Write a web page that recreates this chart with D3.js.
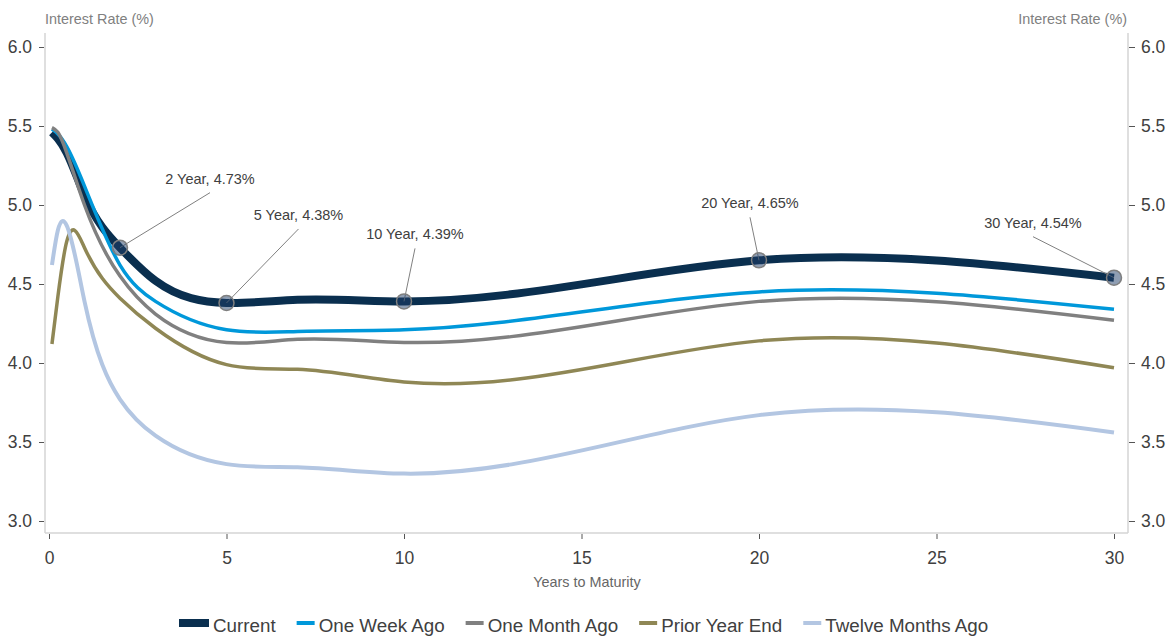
<!DOCTYPE html>
<html>
<head>
<meta charset="utf-8">
<script src="https://cdn.jsdelivr.net/npm/d3@7"></script>
<style>
  body { margin: 0; background: #fff; }
  svg { display: block; font-family: "Liberation Sans", Arial, sans-serif; }
  .axis .domain { display: none; }
  .axis line { stroke: #555; }
  .axis text { fill: #404040; font-size: 17.5px; }
</style>
</head>
<body>
<svg id="chart" width="1167" height="636"></svg>
<script>
// maturities in years (1M, 3M, 6M, 1Y ... 30Y)
const maturities = [1/12, 3/12, 0.5, 1, 2, 3, 5, 7, 10, 20, 30];

const current         = [5.46, 5.42, 5.33, 5.06, 4.73, 4.52, 4.38, 4.40, 4.39, 4.65, 4.54];
const oneWeekAgo      = [5.48, 5.45, 5.37, 5.12, 4.62, 4.39, 4.21, 4.20, 4.21, 4.45, 4.34];
const oneMonthAgo     = [5.49, 5.46, 5.33, 5.00, 4.55, 4.31, 4.13, 4.15, 4.13, 4.39, 4.27];
const priorYearEnd    = [4.12, 4.42, 4.77, 4.73, 4.41, 4.22, 3.99, 3.96, 3.88, 4.14, 3.97];
const twelveMonthsAgo = [4.62, 4.84, 4.87, 4.39, 3.77, 3.54, 3.36, 3.34, 3.30, 3.67, 3.56];

const seriesNames = ["Current", "One Week Ago", "One Month Ago", "Prior Year End", "Twelve Months Ago"];
const seriesValues = [current, oneWeekAgo, oneMonthAgo, priorYearEnd, twelveMonthsAgo];
const seriesColors = ["#0a2f4f", "#0098da", "#808080", "#8f8755", "#b3c6e2"];
const seriesWidths = [8, 3.5, 3.5, 3.5, 4];

const yTicks = [3.0, 3.5, 4.0, 4.5, 5.0, 5.5, 6.0];
const xTicks = [0, 5, 10, 15, 20, 25, 30];

// labelled points on the current curve
const annoYears = [2, 5, 10, 20, 30];
// where each leader line ends, relative to its point
const annoOffsets = [[90, -55], [72, -74], [11, -53], [-9, -43], [-81, -41]];

// natural cubic spline of y over x, written out as bezier segments
function curveSplineX(context) {
    let xs, ys;
    return {
        areaStart() {}, areaEnd() {},
        lineStart() { xs = []; ys = []; },
        point(px, py) { xs.push(+px); ys.push(+py); },
        lineEnd() {
            const n = xs.length;
            if (!n) return;
            context.moveTo(xs[0], ys[0]);
            if (n === 1) return;
            const h = [];
            for (let i = 0; i < n - 1; i++) h[i] = xs[i + 1] - xs[i];
            const M = new Array(n).fill(0);
            if (n > 2) {
                // tridiagonal solve for inner second derivatives
                const a = [], b = [], c = [], r = [];
                for (let i = 1; i < n - 1; i++) {
                    a.push(h[i - 1]);
                    b.push(2 * (h[i - 1] + h[i]));
                    c.push(h[i]);
                    r.push(6 * ((ys[i + 1] - ys[i]) / h[i] - (ys[i] - ys[i - 1]) / h[i - 1]));
                }
                const m = b.length;
                for (let i = 1; i < m; i++) {
                    const w = a[i] / b[i - 1];
                    b[i] -= w * c[i - 1];
                    r[i] -= w * r[i - 1];
                }
                const sol = new Array(m);
                sol[m - 1] = r[m - 1] / b[m - 1];
                for (let i = m - 2; i >= 0; i--) sol[i] = (r[i] - c[i] * sol[i + 1]) / b[i];
                for (let i = 0; i < m; i++) M[i + 1] = sol[i];
            }
            for (let i = 0; i < n - 1; i++) {
                const s = (ys[i + 1] - ys[i]) / h[i];
                const m0 = s - h[i] * (2 * M[i] + M[i + 1]) / 6;
                const m1 = s + h[i] * (M[i] + 2 * M[i + 1]) / 6;
                context.bezierCurveTo(
                    xs[i] + h[i] / 3, ys[i] + m0 * h[i] / 3,
                    xs[i + 1] - h[i] / 3, ys[i + 1] - m1 * h[i] / 3,
                    xs[i + 1], ys[i + 1]);
            }
        }
    };
}

const svg = d3.select("#chart");

const x = d3.scaleLinear().domain([0, 30]).range([49, 1114]);
const y = d3.scaleLinear().domain([3, 6]).range([521, 47]);

const frameL = 45, frameR = 1128, frameT = 33, frameB = 533;

// frame lines
svg.append("line").attr("x1", frameL).attr("x2", frameL).attr("y1", frameT).attr("y2", frameB)
    .attr("stroke", "#d4d4d4").attr("stroke-width", 1.5);
svg.append("line").attr("x1", frameR).attr("x2", frameR).attr("y1", frameT).attr("y2", frameB)
    .attr("stroke", "#d4d4d4").attr("stroke-width", 1.5);
svg.append("line").attr("x1", frameL).attr("x2", frameR).attr("y1", frameB).attr("y2", frameB)
    .attr("stroke", "#d4d4d4").attr("stroke-width", 1.5);

svg.append("g").attr("class", "axis")
    .attr("transform", "translate(44,0)")
    .call(d3.axisLeft(y).tickValues(yTicks).tickFormat(d3.format(".1f")).tickSize(5).tickPadding(7));

svg.append("g").attr("class", "axis")
    .attr("transform", "translate(1129,0)")
    .call(d3.axisRight(y).tickValues(yTicks).tickFormat(d3.format(".1f")).tickSize(6).tickPadding(6));

svg.append("g").attr("class", "axis")
    .attr("transform", "translate(0,534)")
    .call(d3.axisBottom(x).tickValues(xTicks).tickSize(5).tickPadding(13));

// axis titles
svg.append("text").attr("x", 45).attr("y", 24)
    .attr("fill", "#808080").attr("font-size", "14.4px").text("Interest Rate (%)");
svg.append("text").attr("x", 1127).attr("y", 24).attr("text-anchor", "end")
    .attr("fill", "#808080").attr("font-size", "14.4px").text("Interest Rate (%)");
svg.append("text").attr("x", 587).attr("y", 587).attr("text-anchor", "middle")
    .attr("fill", "#666").attr("font-size", "14.4px").text("Years to Maturity");

const line = d3.line()
    .x(d => x(d[0]))
    .y(d => y(d[1]))
    .curve(curveSplineX);

svg.append("g").selectAll("path")
    .data(seriesValues)
    .join("path")
    .attr("d", vals => line(maturities.map((m, i) => [m, vals[i]])))
    .attr("fill", "none")
    .attr("stroke", (d, i) => seriesColors[i])
    .attr("stroke-width", (d, i) => seriesWidths[i]);

// annotations
const annos = annoYears.map((yr, i) => {
    const v = current[maturities.indexOf(yr)];
    const px = x(yr), py = y(v);
    return { yr, v, px, py, ex: px + annoOffsets[i][0], ey: py + annoOffsets[i][1] };
});

const ag = svg.append("g");
ag.selectAll("line").data(annos).join("line")
    .attr("x1", d => d.px).attr("y1", d => d.py)
    .attr("x2", d => d.ex).attr("y2", d => d.ey)
    .attr("stroke", "#808080").attr("stroke-width", 1);
ag.selectAll("circle").data(annos).join("circle")
    .attr("cx", d => d.px).attr("cy", d => d.py).attr("r", 7.5)
    .attr("fill", "#203d68").attr("fill-opacity", 0.5)
    .attr("stroke", "#7f7f7f").attr("stroke-width", 1.5);
ag.selectAll("text").data(annos).join("text")
    .attr("x", d => d.ex).attr("y", d => d.ey - 9)
    .attr("text-anchor", "middle")
    .attr("fill", "#404040").attr("font-size", "14.5px")
    .text(d => `${d.yr} Year, ${d.v.toFixed(2)}%`);

// legend
const legend = svg.append("g").attr("font-size", "18.8px");
let lx = 179;
seriesNames.forEach((name, i) => {
    const sw = i === 0 ? 30 : 18;
    legend.append("line")
        .attr("x1", lx).attr("x2", lx + sw).attr("y1", 623).attr("y2", 623)
        .attr("stroke", seriesColors[i]).attr("stroke-width", i === 0 ? 8 : 4);
    const t = legend.append("text").attr("x", lx + sw + 4).attr("y", 632)
        .attr("fill", "#404040").text(name);
    lx += sw + 4 + t.node().getComputedTextLength() + 21;
});
</script>
</body>
</html>
